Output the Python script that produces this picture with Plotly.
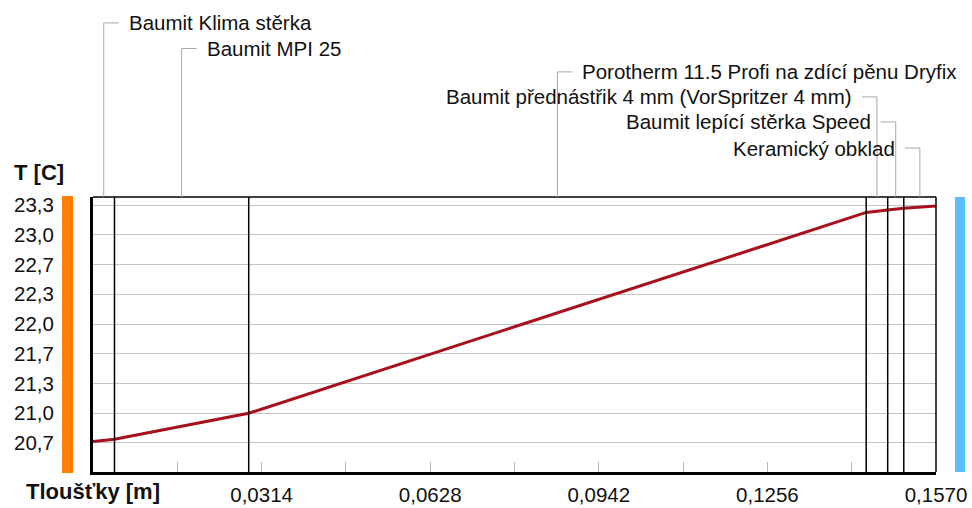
import numpy as np
import plotly.graph_objects as go

# ---------------- data ----------------
layer_names = [
    "Baumit Klima stěrka",
    "Baumit MPI 25",
    "Porotherm 11.5 Profi na zdící pěnu Dryfix",
    "Baumit přednástřik 4 mm (VorSpritzer 4 mm)",
    "Baumit lepící stěrka Speed",
    "Keramický obklad",
]
layer_thickness_m = [0.004, 0.025, 0.115, 0.004, 0.003, 0.006]
# temperature at each layer interface (including both surfaces), °C
interface_temps = [20.683, 20.708, 21.000, 23.250, 23.277, 23.296, 23.322]

x_tick_vals = [0.0157, 0.0314, 0.0471, 0.0628, 0.0785, 0.0942, 0.1099, 0.1256, 0.1413, 0.1570]
x_tick_text = ["", "0,0314", "", "0,0628", "", "0,0942", "", "0,1256", "", "0,1570"]
y_tick_vals = [20.667, 21.0, 21.333, 21.667, 22.0, 22.333, 22.667, 23.0, 23.333]
y_tick_text = ["20,7", "21,0", "21,3", "21,7", "22,0", "22,3", "22,7", "23,0", "23,3"]

# label placement: (paper y of label, side)
label_y_paper = [1.633, 1.540, 1.455, 1.364, 1.273, 1.178]
label_side = ["right", "right", "right", "left", "left", "left"]

# ---------------- derived ----------------
boundaries = np.concatenate([[0.0], np.cumsum(layer_thickness_m)])
mids = (boundaries[:-1] + boundaries[1:]) / 2
total = boundaries[-1]

FONT = "Liberation Sans, Arial, sans-serif"
FS = 20.5

fig = go.Figure()
fig.add_trace(go.Scatter(
    x=boundaries, y=interface_temps, mode="lines",
    line=dict(color="#A8101C", width=3), hoverinfo="skip", showlegend=False,
))

shapes = []
# internal layer boundaries
for b in boundaries[1:-1]:
    shapes.append(dict(type="line", xref="x", yref="paper", x0=b, x1=b, y0=0, y1=1,
                       line=dict(color="black", width=1.5), layer="above"))
# top and right frame
shapes.append(dict(type="line", xref="paper", yref="paper", x0=0, x1=1, y0=1, y1=1,
                   line=dict(color="black", width=1.5)))
shapes.append(dict(type="line", xref="paper", yref="paper", x0=1, x1=1, y0=0, y1=1,
                   line=dict(color="black", width=1.5)))

annotations = []
for name, m, ly, side in zip(layer_names, mids, label_y_paper, label_side):
    # vertical leader
    shapes.append(dict(type="line", xref="x", yref="paper", x0=m, x1=m, y0=1, y1=ly,
                       line=dict(color="#a8a8a8", width=1)))
    sgn = 1 if side == "right" else -1
    shapes.append(dict(type="line", xref="x", yref="paper", xsizemode="pixel", xanchor=m,
                       x0=0, x1=sgn * 15, y0=ly, y1=ly,
                       line=dict(color="#a8a8a8", width=1)))
    annotations.append(dict(
        text=name, x=m, y=ly, xref="x", yref="paper", showarrow=False,
        xanchor="left" if side == "right" else "right", yanchor="middle",
        xshift=sgn * 23, font=dict(family=FONT, size=FS, color="#111"),
    ))

# coloured boundary bars (interior / exterior)
shapes.append(dict(type="rect", xref="paper", yref="paper",
                   x0=-0.0368, x1=-0.0237, y0=-0.004, y1=1.004, fillcolor="#FF8000",
                   line=dict(width=0)))
shapes.append(dict(type="rect", xref="paper", yref="paper",
                   x0=1.0225, x1=1.0344, y0=0, y1=1, fillcolor="#5BC0F8", line=dict(width=0)))

annotations.append(dict(text="<b>T [C]</b>", xref="paper", yref="paper", x=-0.096, y=1.09,
                        xanchor="left", yanchor="middle", showarrow=False,
                        font=dict(family=FONT, size=22, color="#111")))
annotations.append(dict(text="<b>Tloušťky [m]</b>", xref="paper", yref="paper", x=-0.082, y=-0.07,
                        xanchor="left", yanchor="middle", showarrow=False,
                        font=dict(family=FONT, size=22, color="#111")))

fig.update_layout(
    width=972, height=508,
    margin=dict(l=93, r=36, t=197, b=36),
    paper_bgcolor="white", plot_bgcolor="white",
    showlegend=False,
    shapes=shapes, annotations=annotations,
    font=dict(family=FONT, size=FS, color="#111"),
)
fig.update_xaxes(
    range=[0, total], tickvals=x_tick_vals, ticktext=x_tick_text,
    ticks="inside", ticklen=10, tickcolor="#b8b8b8", tickwidth=1,
    showgrid=False, zeroline=False, automargin=False,
    showline=True, linecolor="black", linewidth=3,
    tickfont=dict(family=FONT, size=FS, color="#111"),
    ticklabelstandoff=2,
)
fig.update_yaxes(
    range=[20.342, 23.423], tickvals=y_tick_vals, ticktext=y_tick_text,
    ticks="", showgrid=True, gridcolor="#c4c4c4", gridwidth=1, zeroline=False,
    automargin=False,
    showline=True, linecolor="black", linewidth=3,
    tickfont=dict(family=FONT, size=FS, color="#111"),
    ticklabelstandoff=32,
)

fig.write_html(
    "out.html",
    config={"displayModeBar": False},
    post_script="document.body.style.margin='0';document.body.style.overflow='hidden';",
)
